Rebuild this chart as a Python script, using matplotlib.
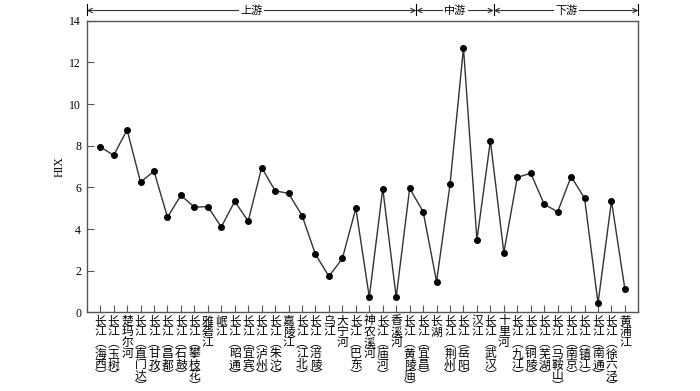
import numpy as np
import matplotlib.pyplot as plt

plt.rcParams['font.family'] = ['Liberation Serif', 'Noto Sans CJK SC']

# sampling sites along the river
sites = ['长江(海西)', '长江(玉树)', '楚玛尔河', '长江(直门达)', '长江(甘孜)', '长江(昌都)',
         '长江(石鼓)', '长江(攀枝花)', '雅砻江', '岷江', '长江(昭通)', '长江(宜宾)',
         '长江(泸州)', '长江(朱沱)', '嘉陵江', '长江(江北)', '长江(涪陵)', '乌江',
         '大宁河', '长江(巴东)', '神农溪河', '长江(庙河)', '香溪河', '长江(黄陵庙)',
         '长江(宜昌)', '长湖', '长江(荆州)', '长江(岳阳)', '汉江', '长江(武汉)',
         '十里河', '长江(九江)', '长江(铜陵)', '长江(芜湖)', '长江(马鞍山)', '长江(南京)',
         '长江(镇江)', '长江(南通)', '长江(徐六泾)', '黄浦江']

hix = [7.95, 7.54, 8.76, 6.25, 6.78, 4.57, 5.62, 5.05, 5.08, 4.10,
       5.33, 4.38, 6.95, 5.84, 5.71, 4.65, 2.79, 1.73, 2.59, 5.00,
       0.73, 5.94, 0.73, 5.95, 4.84, 1.48, 6.14, 12.70, 3.49, 8.24,
       2.87, 6.48, 6.68, 5.19, 4.83, 6.52, 5.48, 0.44, 5.35, 1.10]

reaches = ['上游', '中游', '下游']
reach_edges = [0, 24.5, 30.25, 41]


def vertical(label):
    label = label.replace('(', '︵').replace(')', '︶')
    return '\n'.join(label)


fig = plt.figure(figsize=(7, 3.91), dpi=100)
ax = fig.add_axes([0.1239, 0.201, 0.912 - 0.1239, 0.947 - 0.201])

x = np.arange(1, len(hix) + 1)
ax.plot(x, hix, color='#333333', lw=1.0, marker='o', markersize=4,
        markerfacecolor='black', markeredgecolor='black')

ax.set_xlim(0, 41)
ax.set_ylim(0, 14)
ax.set_yticks(range(0, 15, 2))
ax.set_xticks(x)
ax.set_xticklabels([vertical(s) for s in sites], fontsize=6.5,
                   family=['Noto Sans CJK SC', 'DejaVu Sans'],
                   linespacing=0.8, va='top')
ax.tick_params(axis='both', direction='in', length=5, width=0.8, color='#555555',
               labelsize=8.5, pad=4)
ax.tick_params(axis='x', pad=1.5)
for s in ax.spines.values():
    s.set_color('#555555')
    s.set_linewidth(1.0)
ax.set_ylabel('HIX', fontsize=8.5, labelpad=3)

# reach annotation above the frame
tr = ax.get_xaxis_transform()
ya = 1.035
for e in reach_edges:
    ax.plot([e, e], [1.0 + 6 / 292, 1.0 + 17 / 292], transform=tr, color='black',
            lw=0.8, clip_on=False)
for name, a, b in zip(reaches, reach_edges[:-1], reach_edges[1:]):
    ax.annotate('', xy=(b, ya), xytext=(a, ya), xycoords=tr, textcoords=tr,
                arrowprops=dict(arrowstyle='<->', lw=0.8, color='#333333',
                                shrinkA=0, shrinkB=0, mutation_scale=8))
    ax.text((a + b) / 2, ya, name, transform=tr, ha='center', va='center',
            fontsize=8, family=['Noto Sans CJK SC', 'DejaVu Sans'],
            bbox=dict(facecolor='white', edgecolor='none', pad=1))

fig.savefig('out.png', dpi=100)
